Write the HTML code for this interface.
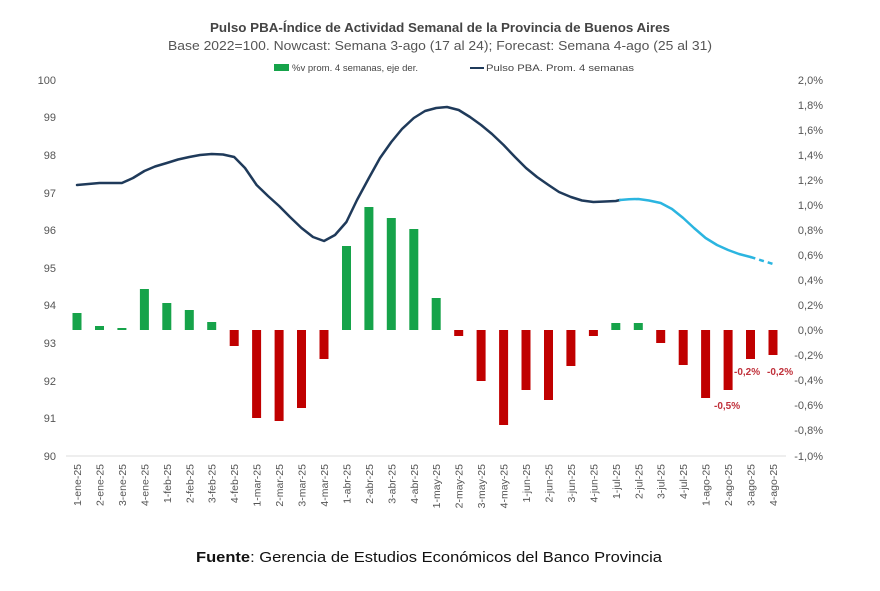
<!DOCTYPE html>
<html><head><meta charset="utf-8"><style>
body{margin:0;background:#fff;width:880px;height:586px;overflow:hidden;font-family:"Liberation Sans",sans-serif}
</style></head><body>
<svg width="880" height="586" xmlns="http://www.w3.org/2000/svg" font-family="Liberation Sans, sans-serif">
<text x="210" y="32" textLength="460" lengthAdjust="spacingAndGlyphs" font-size="13" font-weight="bold" fill="#444">Pulso PBA-Índice de Actividad Semanal de la Provincia de Buenos Aires</text>
<text x="168" y="50" textLength="544" lengthAdjust="spacingAndGlyphs" font-size="13" fill="#555">Base 2022=100. Nowcast: Semana 3-ago (17 al 24); Forecast: Semana 4-ago (25 al 31)</text>
<rect x="274" y="64" width="15" height="7" fill="#16a34a"/>
<text x="292" y="71" textLength="126" lengthAdjust="spacingAndGlyphs" font-size="9.5" fill="#444">%v prom. 4 semanas, eje der.</text>
<line x1="470" y1="68" x2="484" y2="68" stroke="#1f3a5a" stroke-width="2"/>
<text x="486" y="71" textLength="148" lengthAdjust="spacingAndGlyphs" font-size="9.5" fill="#444">Pulso PBA. Prom. 4 semanas</text>
<g font-size="11" fill="#555" text-anchor="end">
<text x="56" y="84">100</text><text x="56" y="121">99</text><text x="56" y="159">98</text><text x="56" y="197">97</text><text x="56" y="234">96</text><text x="56" y="272">95</text><text x="56" y="309">94</text><text x="56" y="347">93</text><text x="56" y="385">92</text><text x="56" y="422">91</text><text x="56" y="460">90</text>
</g>
<g font-size="11" fill="#555" text-anchor="end">
<text x="823" y="84">2,0%</text><text x="823" y="109">1,8%</text><text x="823" y="134">1,6%</text><text x="823" y="159">1,4%</text><text x="823" y="184">1,2%</text><text x="823" y="209">1,0%</text><text x="823" y="234">0,8%</text><text x="823" y="259">0,6%</text><text x="823" y="284">0,4%</text><text x="823" y="309">0,2%</text><text x="823" y="334">0,0%</text><text x="823" y="359">-0,2%</text><text x="823" y="384">-0,4%</text><text x="823" y="409">-0,6%</text><text x="823" y="434">-0,8%</text><text x="823" y="460">-1,0%</text>
</g>
<line x1="66" y1="456" x2="786" y2="456" stroke="#ddd" stroke-width="1"/>
<g fill="#16a34a">
<rect x="72.5" y="313" width="9" height="17"/><rect x="95" y="326" width="9" height="4"/><rect x="117.4" y="328" width="9" height="2"/><rect x="139.9" y="289" width="9" height="41"/><rect x="162.3" y="303" width="9" height="27"/><rect x="184.8" y="310" width="9" height="20"/><rect x="207.2" y="322" width="9" height="8"/>
<rect x="342" y="246" width="9" height="84"/><rect x="364.4" y="207" width="9" height="123"/><rect x="386.8" y="218" width="9" height="112"/><rect x="409.3" y="229" width="9" height="101"/><rect x="431.7" y="298" width="9" height="32"/>
<rect x="611.3" y="323" width="9" height="7"/><rect x="633.8" y="323" width="9" height="7"/>
</g>
<g fill="#c00000">
<rect x="229.7" y="330" width="9" height="16"/><rect x="252.1" y="330" width="9" height="88"/><rect x="274.6" y="330" width="9" height="91"/><rect x="297" y="330" width="9" height="78"/><rect x="319.5" y="330" width="9" height="29"/>
<rect x="454.2" y="330" width="9" height="6"/><rect x="476.6" y="330" width="9" height="51"/><rect x="499.1" y="330" width="9" height="95"/><rect x="521.5" y="330" width="9" height="60"/><rect x="544" y="330" width="9" height="70"/><rect x="566.4" y="330" width="9" height="36"/><rect x="588.9" y="330" width="9" height="6"/>
<rect x="656.2" y="330" width="9" height="13"/><rect x="678.7" y="330" width="9" height="35"/><rect x="701.1" y="330" width="9" height="68"/><rect x="723.6" y="330" width="9" height="60"/><rect x="746" y="330" width="9" height="29"/><rect x="768.5" y="330" width="9" height="25"/>
</g>
<g font-size="10" font-weight="bold" fill="#c0303a">
<text x="714" y="409">-0,5%</text><text x="734" y="375">-0,2%</text><text x="767" y="375">-0,2%</text>
</g>
<polyline fill="none" stroke="#1f3a5a" stroke-width="2.5" stroke-linejoin="round" stroke-linecap="round" points="77,185 99.5,183 121.9,183 133,178 144.4,171 155,166.5 166.8,163 178,159.5 189.3,157 200,155 211.7,154 223,154.5 234.2,157 245,168 256.6,185 268,196 279.1,206 290,217 301.5,228 313,237 324,241 335,235 346.4,222 357,200 368.9,178 380,158 391.3,142 402,129 413.8,118 425,111 436.2,108 447,107 458.7,110 470,117 481.1,125 492,134 503.6,145 515,157 526,168 537,177 548.5,185 559,192 570.9,197 582,200.5 593.4,202 605,201.5 615.8,201 620,200"/>
<polyline fill="none" stroke="#2bb5e0" stroke-width="2.5" stroke-linejoin="round" stroke-linecap="round" points="620,200 629,199.2 638.3,199 649,200.5 660.7,203 672,209 683.2,218 694,228 705.6,238 717,245 728.1,250 739,254 750.5,257"/>
<polyline fill="none" stroke="#2bb5e0" stroke-width="2.5" stroke-dasharray="5,4" points="750.5,257 773,264"/>
<g font-size="10.5" fill="#555" text-anchor="end">
<text transform="translate(81,464) rotate(-90)">1-ene-25</text><text transform="translate(103.5,464) rotate(-90)">2-ene-25</text><text transform="translate(125.9,464) rotate(-90)">3-ene-25</text><text transform="translate(148.4,464) rotate(-90)">4-ene-25</text><text transform="translate(170.8,464) rotate(-90)">1-feb-25</text><text transform="translate(193.3,464) rotate(-90)">2-feb-25</text><text transform="translate(215.7,464) rotate(-90)">3-feb-25</text><text transform="translate(238.2,464) rotate(-90)">4-feb-25</text><text transform="translate(260.6,464) rotate(-90)">1-mar-25</text><text transform="translate(283.1,464) rotate(-90)">2-mar-25</text><text transform="translate(305.5,464) rotate(-90)">3-mar-25</text><text transform="translate(328,464) rotate(-90)">4-mar-25</text><text transform="translate(350.4,464) rotate(-90)">1-abr-25</text><text transform="translate(372.9,464) rotate(-90)">2-abr-25</text><text transform="translate(395.3,464) rotate(-90)">3-abr-25</text><text transform="translate(417.8,464) rotate(-90)">4-abr-25</text><text transform="translate(440.2,464) rotate(-90)">1-may-25</text><text transform="translate(462.7,464) rotate(-90)">2-may-25</text><text transform="translate(485.1,464) rotate(-90)">3-may-25</text><text transform="translate(507.6,464) rotate(-90)">4-may-25</text><text transform="translate(530,464) rotate(-90)">1-jun-25</text><text transform="translate(552.5,464) rotate(-90)">2-jun-25</text><text transform="translate(574.9,464) rotate(-90)">3-jun-25</text><text transform="translate(597.4,464) rotate(-90)">4-jun-25</text><text transform="translate(619.8,464) rotate(-90)">1-jul-25</text><text transform="translate(642.3,464) rotate(-90)">2-jul-25</text><text transform="translate(664.7,464) rotate(-90)">3-jul-25</text><text transform="translate(687.2,464) rotate(-90)">4-jul-25</text><text transform="translate(709.6,464) rotate(-90)">1-ago-25</text><text transform="translate(732.1,464) rotate(-90)">2-ago-25</text><text transform="translate(754.5,464) rotate(-90)">3-ago-25</text><text transform="translate(777,464) rotate(-90)">4-ago-25</text>
</g>
<text x="196" y="562" font-size="15" textLength="466" lengthAdjust="spacingAndGlyphs" fill="#111"><tspan font-weight="bold">Fuente</tspan>: Gerencia de Estudios Económicos del Banco Provincia</text>
</svg>
</body></html>
